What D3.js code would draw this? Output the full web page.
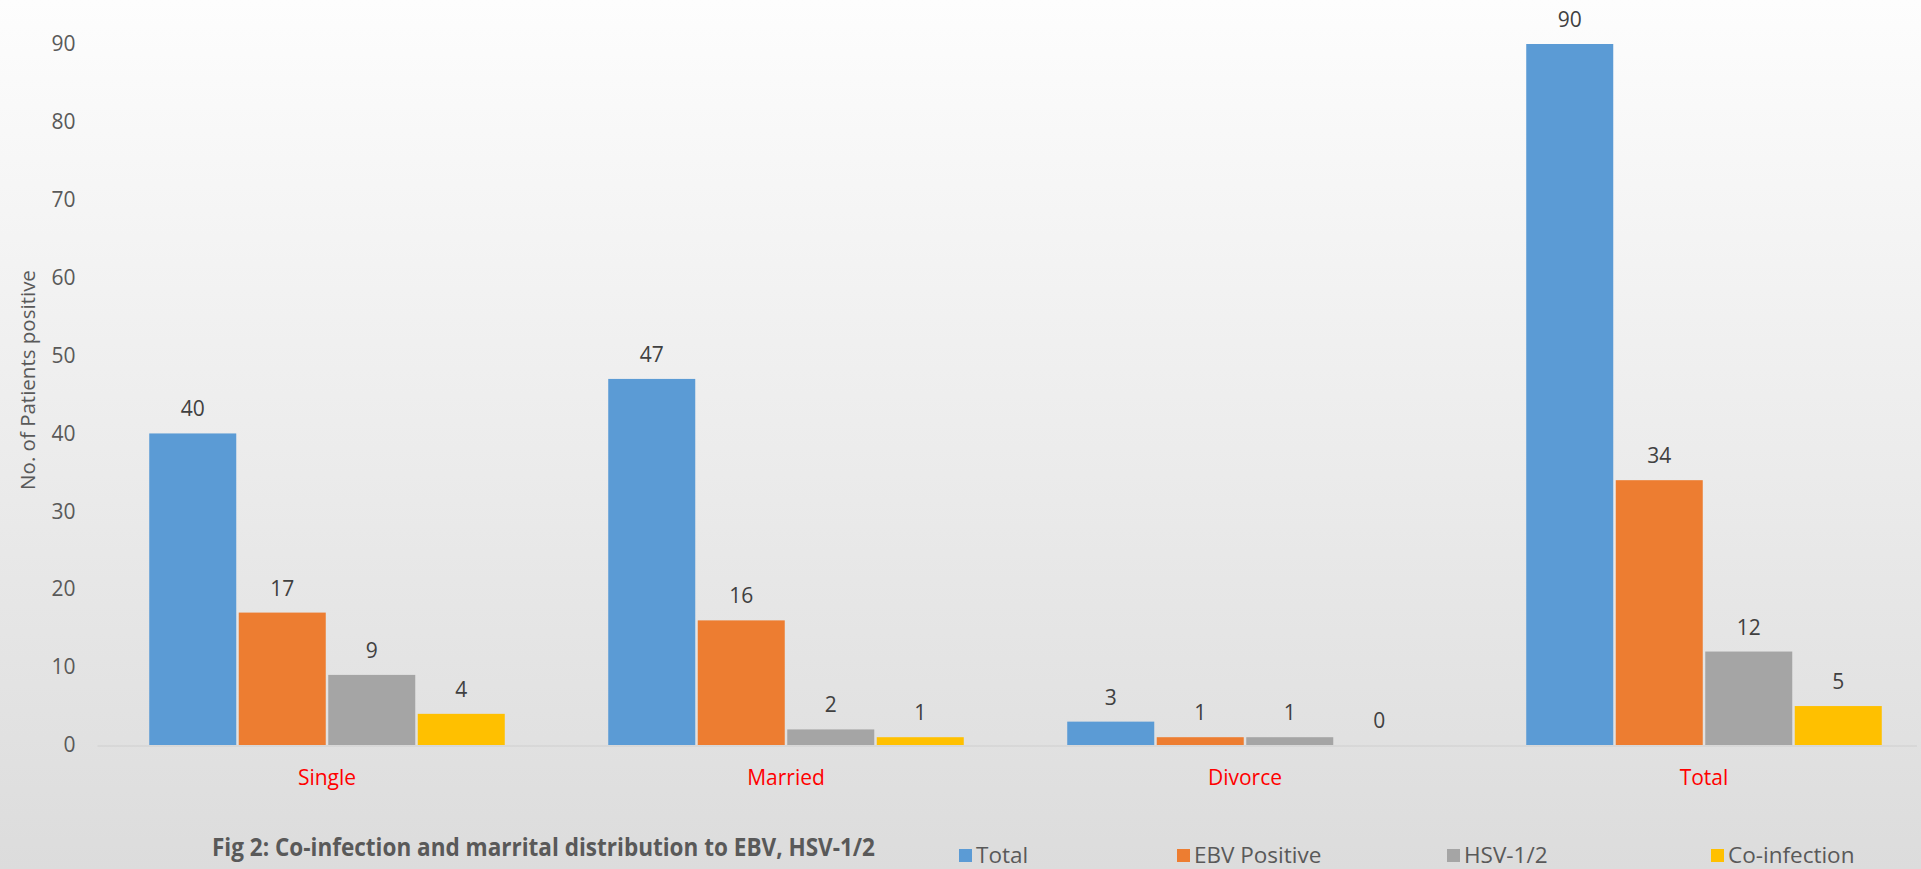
<!DOCTYPE html>
<html>
<head>
<meta charset="utf-8">
<script src="https://cdn.jsdelivr.net/npm/d3@7/dist/d3.min.js"></script>
<style>
  html, body { margin: 0; padding: 0; background: #ffffff; }
  svg { display: block; }
</style>
</head>
<body>
<script>
// Patients by marital status and infection
const categories = ["Single", "Married", "Divorce", "Total"];
const seriesNames = ["Total", "EBV Positive", "HSV-1/2", "Co-infection"];
const totalValues = [40, 47, 3, 90];
const ebvValues = [17, 16, 1, 34];
const hsvValues = [9, 2, 1, 12];
const coInfectionValues = [4, 1, 0, 5];
const yTickValues = [0, 10, 20, 30, 40, 50, 60, 70, 80, 90];
const seriesColors = ["#5B9BD5", "#ED7D31", "#A5A5A5", "#FFC000"];

const seriesValues = [totalValues, ebvValues, hsvValues, coInfectionValues];

const W = 1921, H = 869;
const plot = { left: 97.5, right: 1933.5, top: 44, bottom: 745 };

const svg = d3.select("body").append("svg")
  .attr("width", W).attr("height", H);

// soft vertical background gradient
const defs = svg.append("defs");
const grad = defs.append("linearGradient")
  .attr("id", "bg").attr("x1", 0).attr("y1", 0).attr("x2", 0).attr("y2", 1);
grad.append("stop").attr("offset", "0%").attr("stop-color", "#fdfdfd");
grad.append("stop").attr("offset", "100%").attr("stop-color", "#dcdcdc");
svg.append("rect").attr("width", W).attr("height", H).attr("fill", "url(#bg)");

const x0 = d3.scaleBand()
  .domain(categories)
  .range([plot.left, plot.right])
  .paddingInner(0.22)
  .paddingOuter(0.11);

const x1 = d3.scaleBand()
  .domain(seriesNames)
  .range([0, x0.bandwidth()]);

const y = d3.scaleLinear()
  .domain([0, 90])
  .range([plot.bottom, plot.top]);

const fontMain = "'Open Sans', 'Noto Sans', sans-serif";

// y axis (labels only)
const yAxis = svg.append("g")
  .attr("transform", `translate(${plot.left - 12},0)`)
  .call(d3.axisLeft(y).tickValues(yTickValues).tickSize(0).tickPadding(10));
yAxis.select(".domain").remove();
yAxis.selectAll("text")
  .attr("fill", "#595959")
  .style("font-family", fontMain)
  .style("font-size", "21px");

// y axis title
svg.append("text")
  .attr("transform", `translate(35,380) rotate(-90)`)
  .attr("text-anchor", "middle")
  .attr("fill", "#595959")
  .style("font-family", fontMain)
  .style("font-size", "20.5px")
  .text("No. of Patients positive");

// bars
const rows = categories.map((c, i) => ({
  cat: c,
  items: seriesNames.map((s, j) => ({ series: s, value: seriesValues[j][i], color: seriesColors[j] }))
}));

const groups = svg.append("g").selectAll("g")
  .data(rows).join("g")
  .attr("transform", d => `translate(${x0(d.cat)},0)`);

groups.selectAll("rect")
  .data(d => d.items).join("rect")
  .attr("x", d => x1(d.series) + 1.25)
  .attr("width", x1.bandwidth() - 2.5)
  .attr("y", d => y(d.value))
  .attr("height", d => y(0) - y(d.value))
  .attr("fill", d => d.color);

groups.selectAll("text")
  .data(d => d.items).join("text")
  .attr("x", d => x1(d.series) + x1.bandwidth() / 2)
  .attr("y", d => y(d.value) - 17)
  .attr("text-anchor", "middle")
  .attr("fill", "#404040")
  .style("font-family", fontMain)
  .style("font-size", "21px")
  .text(d => d.value);

// baseline
svg.append("line")
  .attr("x1", plot.left).attr("x2", 1917)
  .attr("y1", y(0) + 1).attr("y2", y(0) + 1)
  .attr("stroke", "#d4d4d4").attr("stroke-width", 1.5);

// category labels
svg.append("g").selectAll("text")
  .data(categories).join("text")
  .attr("x", d => x0(d) + x0.bandwidth() / 2)
  .attr("y", plot.bottom + 40)
  .attr("text-anchor", "middle")
  .attr("fill", "#FF0000")
  .style("font-family", fontMain)
  .style("font-size", "21px")
  .text(d => d);

// figure caption (condensed bold)
svg.append("text")
  .attr("x", 212)
  .attr("y", 856)
  .attr("textLength", 663)
  .attr("lengthAdjust", "spacingAndGlyphs")
  .attr("fill", "#595959")
  .style("font-family", fontMain)
  .style("font-size", "25px")
  .style("font-weight", "bold")
  .text("Fig 2: Co-infection and marrital distribution to EBV, HSV-1/2");

// legend
const legendX = [959, 1177, 1447, 1711];
const legend = svg.append("g").selectAll("g")
  .data(seriesNames).join("g")
  .attr("transform", (d, i) => `translate(${legendX[i]},849)`);
legend.append("rect")
  .attr("width", 13).attr("height", 13)
  .attr("fill", (d, i) => seriesColors[i]);
legend.append("text")
  .attr("x", 17).attr("y", 14)
  .attr("fill", "#595959")
  .style("font-family", fontMain)
  .style("font-size", "22.5px")
  .text(d => d);
</script>
</body>
</html>
